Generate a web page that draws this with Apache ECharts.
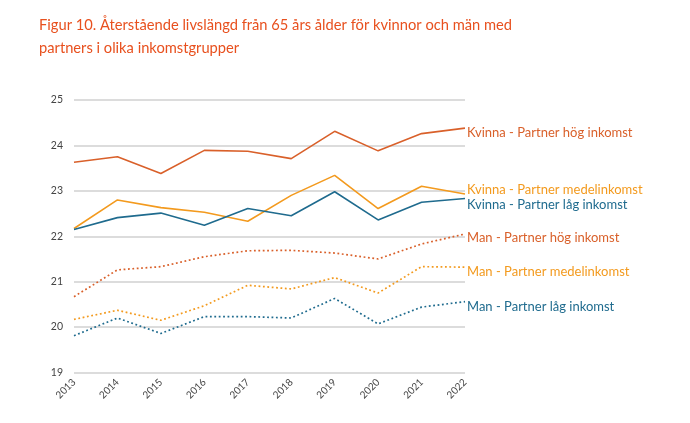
<!DOCTYPE html>
<html><head><meta charset="utf-8">
<script src="https://cdn.jsdelivr.net/npm/echarts@6/dist/echarts.min.js"></script>
<style>html,body{margin:0;padding:0;background:#fff}#c{width:690px;height:423px}</style>
</head><body><div id="c"></div>
<script>
const years = ['2013','2014','2015','2016','2017','2018','2019','2020','2021','2022'];
const kvinnaHog   = [23.63,23.75,23.38,23.89,23.87,23.71,24.31,23.88,24.26,24.38];
const kvinnaMedel = [22.17,22.80,22.63,22.53,22.33,22.90,23.34,22.61,23.10,22.93];
const kvinnaLag   = [22.15,22.41,22.51,22.24,22.61,22.45,22.98,22.36,22.75,22.83];
const manHog      = [20.67,21.26,21.33,21.55,21.68,21.69,21.63,21.50,21.83,22.05];
const manMedel    = [20.17,20.37,20.15,20.47,20.92,20.84,21.09,20.75,21.33,21.32];
const manLag      = [19.81,20.20,19.86,20.23,20.23,20.20,20.63,20.07,20.44,20.56];
const yTicks = [19,25,1];

const C_HOG = '#d9602a', C_MED = '#f39a1e', C_LAG = '#1f6b8e';
const FONT = 'Lato';

function s(name, data, color, dotted, dy) {
  return {
    name, type: 'line', data, symbol: 'none', smooth: false,
    lineStyle: { color, width: dotted ? 1.7 : 1.6, type: dotted ? [1.8, 2.6] : 'solid' },
    itemStyle: { color },
    endLabel: { show: true, formatter: '{a}', color, fontFamily: FONT, fontSize: 13, distance: 2, offset: [0, dy] },
    emphasis: { disabled: true }
  };
}

const chart = echarts.init(document.getElementById('c'), null, { renderer: 'canvas' });
chart.setOption({
  animation: false,
  title: {
    text: 'Figur 10. Återstående livslängd från 65 års ålder för kvinnor och män med\npartners i olika inkomstgrupper',
    left: 34, top: 9,
    textStyle: { color: '#e8501e', fontFamily: FONT, fontSize: 14.7, fontWeight: 'normal', lineHeight: 23 }
  },
  grid: { left: 74, right: 225, top: 100, bottom: 50.5 },
  xAxis: {
    type: 'category', data: years, boundaryGap: false,
    axisLine: { show: false }, axisTick: { show: false },
    axisLabel: { rotate: 45, color: '#444', fontFamily: FONT, fontSize: 10, margin: 8 }
  },
  yAxis: {
    type: 'value', min: yTicks[0], max: yTicks[1], interval: yTicks[2],
    axisLine: { show: false }, axisTick: { show: false },
    axisLabel: { color: '#444', fontFamily: FONT, fontSize: 10.5, margin: 11 },
    splitLine: { lineStyle: { color: '#d0d0d0', width: 1.5 } }
  },
  series: [
    s('Kvinna - Partner hög inkomst', kvinnaHog, C_HOG, false, 5),
    s('Kvinna - Partner medelinkomst', kvinnaMedel, C_MED, false, -4),
    s('Kvinna - Partner låg inkomst', kvinnaLag, C_LAG, false, 6),
    s('Man - Partner hög inkomst', manHog, C_HOG, true, 4),
    s('Man - Partner medelinkomst', manMedel, C_MED, true, 5),
    s('Man - Partner låg inkomst', manLag, C_LAG, true, 5)
  ]
});
</script></body></html>
